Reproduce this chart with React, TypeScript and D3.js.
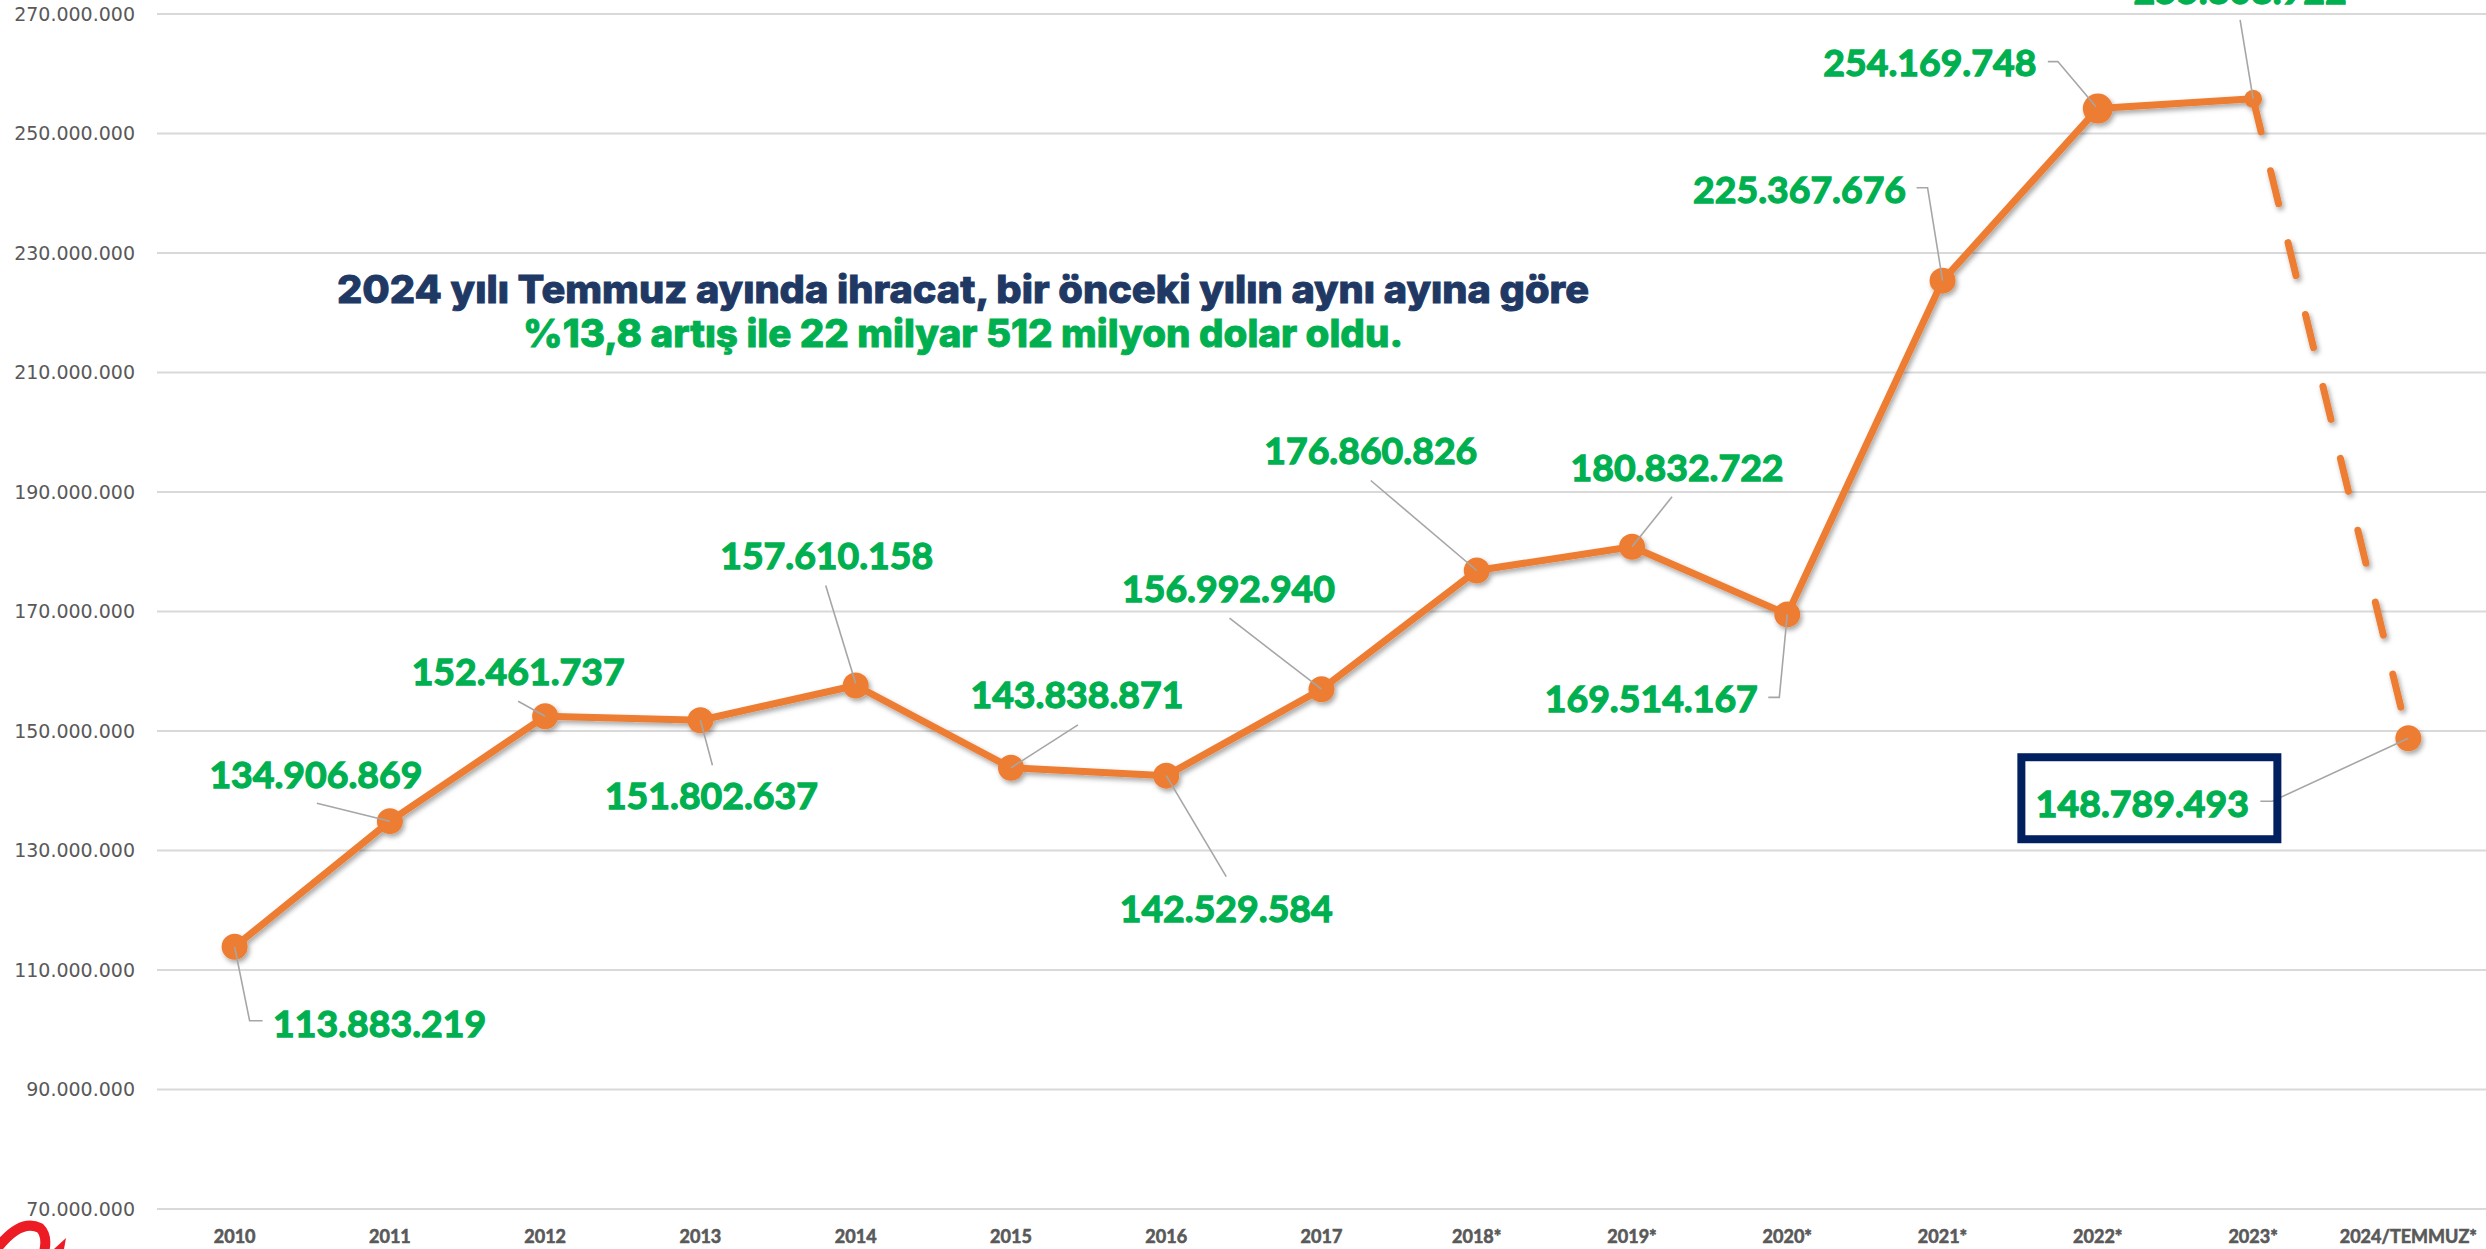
import React from "react";
import * as d3 from "d3";

// years on the x axis and yearly exports (USD thousands)
const years = [
  "2010", "2011", "2012", "2013", "2014", "2015", "2016", "2017",
  "2018*", "2019*", "2020*", "2021*", "2022*", "2023*", "2024/TEMMUZ*",
];
const exportValues = [
  113883219, 134906869, 152461737, 151802637, 157610158, 143838871,
  142529584, 156992940, 176860826, 180832722, 169514167, 225367676,
  254169748, 255808922, 148789493,
];
const yTicks = [
  70000000, 90000000, 110000000, 130000000, 150000000, 170000000,
  190000000, 210000000, 230000000, 250000000, 270000000,
];
const titleLine1 = "2024 yılı Temmuz ayında ihracat, bir önceki yılın aynı ayına göre";
const titleLine2 = "%13,8 artış ile 22 milyar 512 milyon dolar oldu.";

// label placement relative to each point (dx/dy of text, leader polyline)
const labelLayout: { dx: number; dy: number; leader: [number, number][] }[] = [
  { dx: 145, dy: 90, leader: [[0, 0], [15, 74], [28, 74]] },
  { dx: -74, dy: -33, leader: [[-73, -18], [0, 0]] },
  { dx: -27, dy: -31, leader: [[-27, -15], [0, 0]] },
  { dx: 11, dy: 89, leader: [[0, 0], [12, 45]] },
  { dx: -29, dy: -117, leader: [[-30, -100], [0, -2]] },
  { dx: 66, dy: -60, leader: [[67, -43], [0, 0]] },
  { dx: 60, dy: 146, leader: [[0, 0], [60, 101]] },
  { dx: -93, dy: -87, leader: [[-92, -71], [0, 0]] },
  { dx: -106, dy: -107, leader: [[-106, -90], [0, 0]] },
  { dx: 45, dy: -66, leader: [[40, -50], [0, 0]] },
  { dx: -136, dy: 98, leader: [[0, 0], [-8, 83], [-19, 83]] },
  { dx: -143, dy: -78, leader: [[-26, -93], [-15, -93], [0, 0]] },
  { dx: -168, dy: -33, leader: [[-50, -47], [-40, -47], [-2, -2]] },
  { dx: -13, dy: -95, leader: [[-13, -79], [0, 0]] },
  { dx: -266, dy: 79, leader: [[-148, 63], [-136, 63], [0, 0]] },
];
const markerRadius = (i: number) => (i === 12 ? 15 : i === 13 ? 9 : 13);

const trLocale = d3.formatLocale({
  decimal: ",",
  thousands: ".",
  grouping: [3],
  currency: ["", ""],
});
const fmt = trLocale.format(",d");

const orange = "#ED7D31";
const green = "#00B050";
const navy = "#203864";
const axisGray = "#595959";

const App = () => {
  const width = 2486;
  const height = 1249;
  const left = 157;

  const x = d3.scaleBand().domain(years).range([left, width]).padding(0);
  const cx = (yr: string) => (x(yr) as number) + x.bandwidth() / 2;
  const y = d3.scaleLinear().domain([70000000, 270000000]).range([1209, 14]);

  const pts: [number, number][] = years.map((yr, i) => [cx(yr), y(exportValues[i])]);
  const line = d3.line<[number, number]>();
  const last = pts.length - 1;

  return (
    <svg
      width={width}
      height={height}
      style={{ position: "absolute", left: 0, top: 0, background: "#fff" }}
    >
      <defs>
        <filter id="shadow" x="-50%" y="-50%" width="200%" height="200%">
          <feDropShadow dx="2" dy="3" stdDeviation="2.5" floodColor="#000" floodOpacity="0.35" />
        </filter>
      </defs>
      <rect width={width} height={height} fill="#fff" />

      {/* gridlines + y labels */}
      {yTicks.map((t) => (
        <g key={t}>
          <line x1={left} x2={width} y1={y(t)} y2={y(t)} stroke="#D9D9D9" strokeWidth={2} />
          <text
            x={135}
            y={y(t)}
            dy="0.35em"
            textAnchor="end"
            fontFamily="DejaVu Sans"
            fontSize={19}
            fill={axisGray}
          >
            {fmt(t)}
          </text>
        </g>
      ))}

      {/* x labels */}
      {years.map((yr) => (
        <text
          key={yr}
          x={cx(yr)}
          y={1243}
          textAnchor="middle"
          fontFamily="Lato"
          fontWeight={700}
          fontSize={18}
          fill={axisGray}
          stroke={axisGray}
          strokeWidth={0.6}
        >
          {yr}
        </text>
      ))}

      {/* title */}
      <text
        x={963}
        y={303}
        textAnchor="middle"
        fontFamily="Inter"
        fontWeight={800}
        fontSize={38}
        fill={navy}
        stroke={navy}
        strokeWidth={0.9}
        textLength={1252}
        lengthAdjust="spacingAndGlyphs"
      >
        {titleLine1}
      </text>
      <text
        x={963}
        y={347}
        textAnchor="middle"
        fontFamily="Inter"
        fontWeight={800}
        fontSize={38}
        fill={green}
        stroke={green}
        strokeWidth={0.9}
        textLength={880}
        lengthAdjust="spacingAndGlyphs"
      >
        {titleLine2}
      </text>

      {/* series */}
      <g filter="url(#shadow)">
        <path
          d={line(pts.slice(0, last)) || ""}
          fill="none"
          stroke={orange}
          strokeWidth={7}
          strokeLinejoin="round"
        />
        <path
          d={line(pts.slice(last - 1)) || ""}
          fill="none"
          stroke={orange}
          strokeWidth={7}
          strokeDasharray="34 40"
          strokeLinecap="round"
        />
        {pts.map(([px, py], i) => (
          <circle key={i} cx={px} cy={py} r={markerRadius(i)} fill={orange} />
        ))}
      </g>

      {/* leader lines */}
      {pts.map(([px, py], i) => (
        <polyline
          key={i}
          points={labelLayout[i].leader.map(([a, b]) => `${px + a},${py + b}`).join(" ")}
          fill="none"
          stroke="#A6A6A6"
          strokeWidth={1.6}
        />
      ))}

      {/* highlight box for the last value */}
      <rect
        x={pts[last][0] - 391 + 4}
        y={pts[last][1] + 15 + 4}
        width={264 - 8}
        height={90 - 8}
        fill="none"
        stroke="#002060"
        strokeWidth={8}
      />

      {/* data labels */}
      {pts.map(([px, py], i) => (
        <text
          key={i}
          x={px + labelLayout[i].dx}
          y={py + labelLayout[i].dy}
          textAnchor="middle"
          fontFamily="Lato"
          fontWeight={700}
          fontSize={37}
          fill={green}
          stroke={green}
          strokeWidth={1.3}
          textLength={213}
          lengthAdjust="spacingAndGlyphs"
        >
          {fmt(exportValues[i])}
        </text>
      ))}

      {/* corner logo fragment */}
      <path
        d="M -4 1250 Q 20 1218 40 1228 Q 48 1236 44 1252"
        fill="none"
        stroke="#ED1C24"
        strokeWidth={10}
      />
      <path d="M 54 1249 L 66 1238 L 64 1249 Z" fill="#ED1C24" />
    </svg>
  );
};

export default App;
